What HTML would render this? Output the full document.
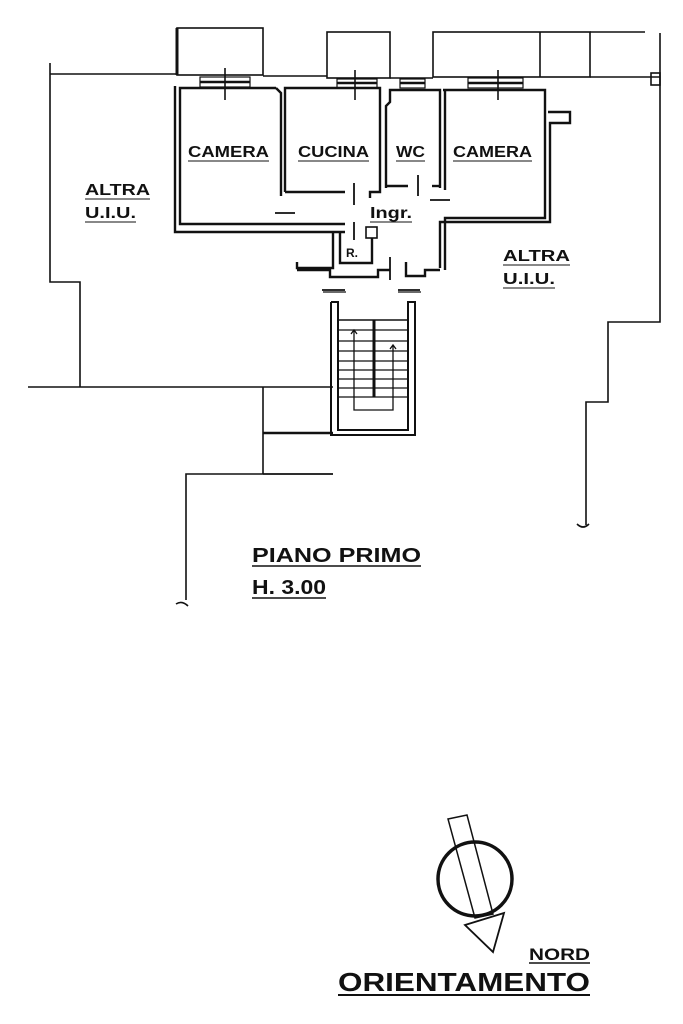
<!DOCTYPE html>
<html><head><meta charset="utf-8"><style>
html,body{margin:0;padding:0;background:#fff;}
svg{display:block;}
text{font-family:"Liberation Sans",sans-serif;font-weight:bold;fill:#111;}
</style></head><body>
<svg width="683" height="1024" viewBox="0 0 683 1024" xmlns="http://www.w3.org/2000/svg">
<g fill="none" stroke="#111" stroke-width="1.6">
<polyline points="50,63 50,282 80,282 80,387"/>
<line x1="28" y1="387" x2="333" y2="387"/>
<line x1="50" y1="74" x2="177" y2="74"/>
<line x1="263" y1="387" x2="263" y2="474"/>
<line x1="263" y1="433" x2="333" y2="433" stroke-width="2.5"/>
<line x1="263" y1="474" x2="333" y2="474"/>
<polyline points="333,474 186,474 186,600"/>
<path d="M176,604 q6,-4 12,2"/>
<rect x="177" y="28" width="86" height="47"/>
<line x1="177" y1="28" x2="177" y2="75" stroke-width="3"/>
<rect x="327" y="32" width="63" height="46"/>
<rect x="433" y="32" width="157" height="45"/>
<line x1="540" y1="32" x2="540" y2="77"/>
<line x1="263" y1="76" x2="327" y2="76"/>
<line x1="390" y1="78" x2="433" y2="78"/>
<line x1="590" y1="77" x2="660" y2="77"/>
<line x1="590" y1="32" x2="645" y2="32"/>
<polyline points="660,33 660,322 608,322 608,402 586,402 586,525"/>
<path d="M577,524 q6,6 12,0"/>
<rect x="651" y="73" width="9" height="12"/>
<rect x="200" y="77" width="50" height="10" stroke-width="1.2"/>
<line x1="200" y1="82" x2="250" y2="82" stroke-width="2.5"/>
<rect x="337" y="79" width="40" height="9" stroke-width="1.2"/>
<line x1="337" y1="83" x2="377" y2="83" stroke-width="2.5"/>
<rect x="400" y="79" width="25" height="9" stroke-width="1.2"/>
<line x1="400" y1="83" x2="425" y2="83" stroke-width="2.5"/>
<rect x="468" y="78" width="55" height="10" stroke-width="1.2"/>
<line x1="468" y1="83" x2="523" y2="83" stroke-width="2.5"/>
<line x1="225" y1="68" x2="225" y2="100"/>
<line x1="355" y1="70" x2="355" y2="100"/>
<line x1="498" y1="70" x2="498" y2="100"/>
</g>
<g fill="none" stroke="#111" stroke-width="2.4">
<polyline points="276,88 180,88 180,224 345,224"/>
<polyline points="175,86 175,232 345,232"/>
<polyline points="276,88 281,93 281,196"/>
<polyline points="285,192 285,88 380,88 380,192 370,192 370,198"/>
<polyline points="285,192 345,192"/>
<polyline points="386,188 386,106 390,102 390,90 440,90 440,188"/>
<line x1="386" y1="186" x2="408" y2="186"/>
<line x1="432" y1="186" x2="440" y2="186"/>
<polyline points="443,90 545,90 545,218 445,218 445,270"/>
<polyline points="445,90 445,190"/>
<polyline points="548,112 570,112 570,123 550,123 550,222 440,222 440,268"/>
<polyline points="333,232 333,268 297,268 297,262"/>
<polyline points="340,232 340,263 372,263 372,238"/>
<polyline points="297,270 330,270 330,277 378,277 378,270 390,270"/>
<rect x="366" y="227" width="11" height="11" stroke-width="1.6"/>
<polyline points="406,262 406,276 425,276 425,270 440,270"/>
</g>
<g stroke="#111" stroke-width="1.8">
<line x1="354" y1="183" x2="354" y2="205"/>
<line x1="354" y1="222" x2="354" y2="240"/>
<line x1="418" y1="175" x2="418" y2="196"/>
<line x1="390" y1="257" x2="390" y2="280"/>
<line x1="322" y1="290" x2="345" y2="290"/>
<line x1="398" y1="290" x2="420" y2="290"/>
<line x1="275" y1="213" x2="295" y2="213"/>
<line x1="430" y1="200" x2="450" y2="200"/>
</g>
<g fill="none" stroke="#111" stroke-width="2">
<polyline points="331,302 331,435 415,435 415,302 408,302 408,430 338,430 338,302 331,302"/>
<rect x="338" y="320" width="70" height="110" stroke-width="1.5"/>
<line x1="374" y1="320" x2="374" y2="397" stroke-width="3"/>
</g>
<g stroke="#111" stroke-width="1.3">
<line x1="338" y1="330" x2="408" y2="330"/><line x1="338" y1="341" x2="408" y2="341"/>
<line x1="338" y1="351" x2="408" y2="351"/><line x1="338" y1="361" x2="408" y2="361"/>
<line x1="338" y1="370" x2="408" y2="370"/><line x1="338" y1="379" x2="408" y2="379"/>
<line x1="338" y1="388" x2="408" y2="388"/><line x1="338" y1="397" x2="408" y2="397"/>
<polyline points="354,331 354,410 393,410 393,345" fill="none"/>
<polyline points="351,334 354,330 357,334" fill="none"/>
<polyline points="390,349 393,345 396,349" fill="none"/>
<line x1="323" y1="292" x2="346" y2="292"/><line x1="398" y1="292" x2="421" y2="292"/>
</g>
<g fill="#fff" stroke="#111">
<polygon points="448,819 467,815 493,914 475,918" stroke-width="1.5"/>
<circle cx="475" cy="879" r="37" fill="none" stroke-width="3.5"/>
<polygon points="465,925 504,913 493,952" stroke-width="1.8"/>
</g>
<g font-size="16" lengthAdjust="spacingAndGlyphs">
<text x="188" y="157" textLength="81" lengthAdjust="spacingAndGlyphs">CAMERA</text><line x1="188" y1="161" x2="269" y2="161" stroke="#111"/>
<text x="298" y="157" textLength="71" lengthAdjust="spacingAndGlyphs">CUCINA</text><line x1="298" y1="161" x2="369" y2="161" stroke="#111"/>
<text x="396" y="157" textLength="29" lengthAdjust="spacingAndGlyphs">WC</text><line x1="396" y1="161" x2="425" y2="161" stroke="#111"/>
<text x="453" y="157" textLength="79" lengthAdjust="spacingAndGlyphs">CAMERA</text><line x1="453" y1="161" x2="532" y2="161" stroke="#111"/>
<text x="85" y="195" textLength="65" lengthAdjust="spacingAndGlyphs">ALTRA</text><line x1="85" y1="199" x2="150" y2="199" stroke="#111"/>
<text x="85" y="218" textLength="51" lengthAdjust="spacingAndGlyphs">U.I.U.</text><line x1="85" y1="222" x2="136" y2="222" stroke="#111"/>
<text x="503" y="261" textLength="67" lengthAdjust="spacingAndGlyphs">ALTRA</text><line x1="503" y1="265" x2="570" y2="265" stroke="#111"/>
<text x="503" y="284" textLength="52" lengthAdjust="spacingAndGlyphs">U.I.U.</text><line x1="503" y1="288" x2="555" y2="288" stroke="#111"/>
<text x="370" y="218" textLength="42" lengthAdjust="spacingAndGlyphs">Ingr.</text><line x1="370" y1="222" x2="412" y2="222" stroke="#111"/>
</g>
<text x="346" y="257" font-size="12">R.</text>
<text x="252" y="562" font-size="20" textLength="169" lengthAdjust="spacingAndGlyphs">PIANO  PRIMO</text><line x1="252" y1="566" x2="421" y2="566" stroke="#111" stroke-width="1.5"/>
<text x="252" y="594" font-size="20" textLength="74" lengthAdjust="spacingAndGlyphs">H. 3.00</text><line x1="252" y1="598" x2="326" y2="598" stroke="#111" stroke-width="1.5"/>
<text x="529" y="960" font-size="17" textLength="61" lengthAdjust="spacingAndGlyphs">NORD</text><line x1="529" y1="963" x2="590" y2="963" stroke="#111" stroke-width="1.5"/>
<text x="338" y="991" font-size="26" textLength="252" lengthAdjust="spacingAndGlyphs">ORIENTAMENTO</text><line x1="338" y1="995" x2="590" y2="995" stroke="#111" stroke-width="2"/>
</svg>
</body></html>
